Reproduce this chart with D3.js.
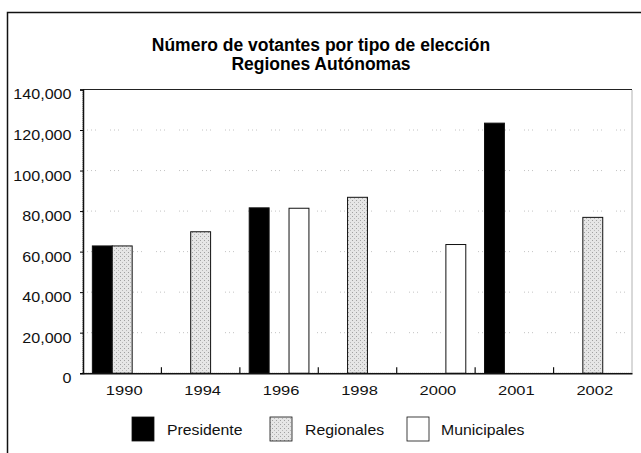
<!DOCTYPE html>
<html>
<head>
<meta charset="utf-8">
<script src="https://cdn.jsdelivr.net/npm/d3@7"></script>
<style>
body { margin: 0; background: #fff; }
text { font-family: "Liberation Sans", Arial, sans-serif; }
</style>
</head>
<body>
<div id="chart"></div>
<script>
var years = ["1990", "1994", "1996", "1998", "2000", "2001", "2002"];
var series = ["Presidente", "Regionales", "Municipales"];
var presidente = [62800, null, 81600, null, null, 123400, null];
var regionales = [62800, 69800, null, 86800, null, null, 76900];
var municipales = [null, null, 81400, null, 63500, null, null];
var yTicks = [0, 20000, 40000, 60000, 80000, 100000, 120000, 140000];

var width = 641, height = 453;
var margin = {left: 83, right: 9, top: 89.5, bottom: 80};

var svg = d3.select("#chart").append("svg")
    .attr("width", width)
    .attr("height", height);

// stipple pattern for Regionales
var defs = svg.append("defs");
var pat = defs.append("pattern")
    .attr("id", "stip")
    .attr("patternUnits", "userSpaceOnUse")
    .attr("width", 4).attr("height", 4);
pat.append("rect").attr("width", 4).attr("height", 4).attr("fill", "#e6e6e6");
pat.append("rect").attr("x", 0).attr("y", 0).attr("width", 1).attr("height", 1).attr("fill", "#a0a0a0");
pat.append("rect").attr("x", 2).attr("y", 2).attr("width", 1).attr("height", 1).attr("fill", "#b8b8b8");

// outer frame
svg.append("path")
    .attr("d", "M7.5," + height + "V12.5H" + width)
    .attr("fill", "none").attr("stroke", "#111").attr("stroke-width", 1.5);

svg.append("text")
    .attr("x", 321).attr("y", 50.5)
    .attr("text-anchor", "middle")
    .style("font-size", "17.5px").style("font-weight", "bold")
    .text("Número de votantes por tipo de elección");
svg.append("text")
    .attr("x", 321).attr("y", 69.5)
    .attr("text-anchor", "middle")
    .style("font-size", "17.5px").style("font-weight", "bold")
    .text("Regiones Autónomas");

var x0 = d3.scaleBand()
    .domain(years)
    .range([margin.left, width - margin.right]);

var x1 = d3.scaleBand()
    .domain(series)
    .range([0, x0.bandwidth()])
    .paddingOuter(0.47);

var y = d3.scaleLinear()
    .domain([0, 140000])
    .range([height - margin.bottom + 0.2, margin.top]);

var fmt = function(d) { return d === 0 ? "0" : d3.format(",")(d); };

// plot frame
svg.append("rect")
    .attr("x", margin.left).attr("y", margin.top)
    .attr("width", width - margin.right - margin.left)
    .attr("height", y(0) - margin.top)
    .attr("fill", "none").attr("stroke", "#666").attr("stroke-width", 1)
    .attr("stroke-dasharray", "1,1");
svg.append("line")
    .attr("x1", margin.left).attr("x2", width - margin.right)
    .attr("y1", margin.top).attr("y2", margin.top)
    .attr("stroke", "#222").attr("stroke-width", 1.2);

// dotted gridlines
svg.append("g")
    .selectAll("line")
    .data(yTicks.filter(function(d) { return d > 0 && d < 140000; }))
    .enter().append("line")
    .attr("x1", margin.left + 4).attr("x2", width - margin.right - 4)
    .attr("y1", function(d) { return y(d); })
    .attr("y2", function(d) { return y(d); })
    .attr("stroke", "#b4b4b4").attr("stroke-width", 0.8)
    .attr("stroke-dasharray", "1,3,1,3,1,14");

// bars
var data = [];
years.forEach(function(yr, i) {
    [presidente, regionales, municipales].forEach(function(arr, j) {
        if (arr[i] != null) data.push({year: yr, s: series[j], v: arr[i]});
    });
});

var fills = {Presidente: "#000", Regionales: "url(#stip)", Municipales: "#fff"};

svg.append("g")
    .selectAll("rect")
    .data(data)
    .enter().append("rect")
    .attr("x", function(d) { return x0(d.year) + x1(d.s); })
    .attr("y", function(d) { return y(d.v); })
    .attr("width", x1.bandwidth())
    .attr("height", function(d) { return y(0) - y(d.v); })
    .attr("fill", function(d) { return fills[d.s]; })
    .attr("stroke", "#111")
    .attr("stroke-width", 1);

// y axis (labels stretched wide like the scanned original)
var yAxis = svg.append("g")
    .attr("transform", "translate(" + margin.left + ",0)")
    .call(d3.axisLeft(y).tickValues(yTicks).tickFormat(fmt).tickSize(3).tickPadding(7));
yAxis.select(".domain").attr("stroke", "#111").attr("stroke-width", 1.5);
yAxis.selectAll("text")
    .style("font-size", "14px")
    .attr("fill", "#111")
    .attr("transform", "translate(0,5) scale(1.15,1)");

// x axis, ticks between categories pointing up
var xAxis = svg.append("g")
    .attr("transform", "translate(0," + y(0) + ")")
    .call(d3.axisBottom(x0).tickSize(0).tickPadding(13));
xAxis.select(".domain").attr("stroke", "#111").attr("stroke-width", 1.5);
xAxis.selectAll("text")
    .style("font-size", "13px")
    .attr("fill", "#111")
    .attr("transform", "translate(2,0) scale(1.27,1)");
svg.append("g")
    .selectAll("line")
    .data(years.slice(1))
    .enter().append("line")
    .attr("x1", function(d) { return x0(d); })
    .attr("x2", function(d) { return x0(d); })
    .attr("y1", y(0)).attr("y2", y(0) - 6)
    .attr("stroke", "#111").attr("stroke-width", 1.2);

// legend
var boxX = [132, 270, 407];
var textX = [167, 305, 441];
var leg = svg.append("g")
    .selectAll("g")
    .data(series)
    .enter().append("g");
leg.append("rect")
    .attr("x", function(d, i) { return boxX[i]; })
    .attr("y", 417)
    .attr("width", 22).attr("height", 24)
    .attr("fill", function(d) { return fills[d]; })
    .attr("stroke", "#111").attr("stroke-width", 0.8);
leg.append("text")
    .attr("transform", function(d, i) { return "translate(" + textX[i] + ",435) scale(1.13,1)"; })
    .style("font-size", "14px")
    .attr("fill", "#111")
    .text(function(d) { return d; });
</script>
</body>
</html>
